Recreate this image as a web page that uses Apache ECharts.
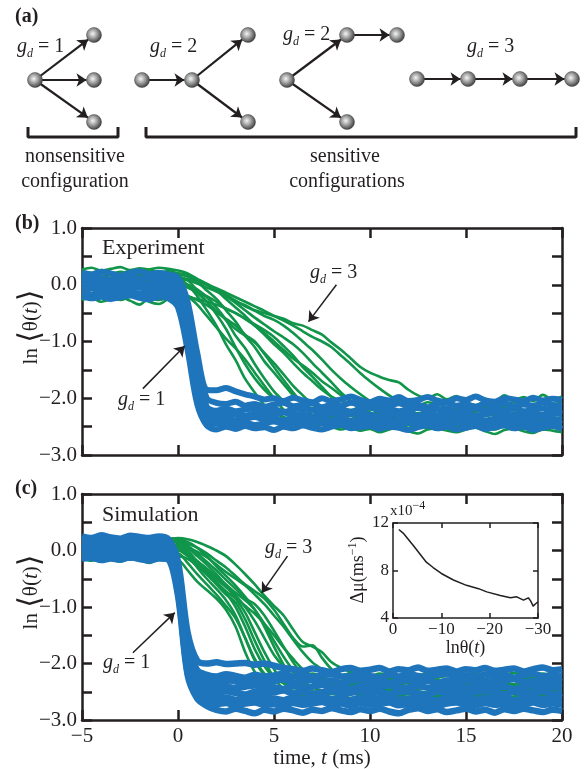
<!DOCTYPE html>
<html lang="en">
<head>
<meta charset="UTF-8">
<title>Cascade response</title>
<script src="https://cdn.jsdelivr.net/npm/echarts@6/dist/echarts.min.js"></script>
<style>
  html, body { margin: 0; padding: 0; background: #fff; }
  #chart { width: 584px; height: 769px; }
</style>
</head>
<body>
<div id="chart"></div>
<script>
// ---- data -------------------------------------------------------------
// sample times (ms) shared by every trace
const T = [-5, -4.5, -4, -3.5, -3, -2.5, -2, -1.5, -1, -0.5,
  0, 0.5, 1, 1.5, 2, 2.5, 3, 3.5, 4, 4.5,
  5, 5.5, 6, 6.5, 7, 7.5, 8, 8.5, 9, 9.5,
  10, 10.5, 11, 11.5, 12, 12.5, 13, 13.5, 14, 14.5,
  15, 15.5, 16, 16.5, 17, 17.5, 18, 18.5, 19, 19.5, 20];

// (b) experiment, g_d = 3 (green)
const expG3 = [
  [0.12,0.08,0.13,0.1,0.06,0.11,0.14,0.09,0.12,0.1, 0.1,0.0,-0.2,-0.45,-0.72,-1.05,-1.33,-1.66,-1.9,-2.12, -2.25,-2.33,-2.38,-2.32,-2.36,-2.4,-2.33,-2.35,-2.31,-2.37, -2.34,-2.38,-2.32,-2.36,-2.33,-2.39,-2.35,-2.31,-2.36,-2.38, -2.33,-2.35,-2.39,-2.34,-2.31,-2.36,-2.38,-2.33,-2.35,-2.37, -2.34],
  [0.16,0.19,0.14,0.17,0.13,0.16,0.2,0.15,0.13,0.17, 0.15,0.08,-0.1,-0.3,-0.52,-0.78,-1.1,-1.4,-1.65,-1.85, -2.0,-2.1,-2.18,-2.22,-2.17,-2.2,-2.24,-2.18,-2.21,-2.16, -2.2,-2.23,-2.18,-2.21,-2.25,-2.19,-2.17,-2.22,-2.2,-2.24, -2.19,-2.16,-2.21,-2.23,-2.18,-2.2,-2.24,-2.19,-2.17,-2.22, -2.2],
  [0.04,0.07,0.02,0.06,0.03,0.05,0.08,0.04,0.02,0.06, 0.05,0.0,-0.08,-0.22,-0.4,-0.62,-0.9,-1.12,-1.4,-1.65, -1.88,-2.05,-2.22,-2.35,-2.42,-2.47,-2.44,-2.49,-2.45,-2.42, -2.47,-2.44,-2.5,-2.46,-2.43,-2.48,-2.45,-2.42,-2.47,-2.5, -2.45,-2.43,-2.48,-2.46,-2.42,-2.47,-2.49,-2.44,-2.46,-2.43, -2.47],
  [0.24,0.21,0.26,0.22,0.19,0.25,0.23,0.27,0.21,0.24, 0.2,0.15,0.05,-0.1,-0.25,-0.45,-0.65,-0.9,-1.1,-1.35, -1.55,-1.75,-1.95,-2.1,-2.2,-2.28,-2.32,-2.27,-2.31,-2.28, -2.33,-2.29,-2.26,-2.31,-2.28,-2.32,-2.27,-2.3,-2.33,-2.28, -2.3,-2.26,-2.31,-2.29,-2.33,-2.28,-2.3,-2.26,-2.31,-2.29, -2.3],
  [-0.2,-0.24,-0.18,-0.22,-0.27,-0.21,-0.19,-0.3,-0.34,-0.25, -0.18,-0.2,-0.27,-0.36,-0.48,-0.6,-0.72,-0.88,-1.0,-1.22, -1.45,-1.68,-1.9,-2.1,-2.3,-2.42,-2.5,-2.55,-2.52,-2.57, -2.54,-2.6,-2.55,-2.52,-2.58,-2.62,-2.55,-2.53,-2.57,-2.6, -2.55,-2.52,-2.58,-2.63,-2.56,-2.53,-2.58,-2.61,-2.55,-2.57, -2.6],
  [0.27,0.3,0.25,0.28,0.31,0.26,0.29,0.27,0.3,0.28, 0.25,0.2,0.1,0.0,-0.1,-0.25,-0.4,-0.55,-0.72,-0.88, -1.05,-1.2,-1.38,-1.55,-1.7,-1.85,-1.97,-2.05,-2.1,-2.07, -2.12,-2.08,-2.11,-2.06,-2.1,-2.13,-2.07,-2.1,-2.05,-2.11, -2.08,-2.12,-2.06,-2.1,-2.13,-2.07,-2.09,-2.12,-2.05,-2.1, -2.08],
  [-0.06,-0.03,-0.08,-0.04,-0.07,-0.02,-0.06,-0.09,-0.04,-0.05, 0.0,-0.05,-0.12,-0.2,-0.3,-0.42,-0.5,-0.6,-0.7,-0.8, -0.92,-1.08,-1.25,-1.45,-1.62,-1.8,-1.98,-2.12,-2.25,-2.33, -2.38,-2.42,-2.37,-2.41,-2.44,-2.39,-2.42,-2.37,-2.4,-2.43, -2.38,-2.41,-2.44,-2.39,-2.37,-2.42,-2.4,-2.44,-2.38,-2.41, -2.39],
  [0.18,0.15,0.2,0.17,0.14,0.19,0.16,0.21,0.18,0.15, 0.18,0.15,0.08,0.0,-0.08,-0.18,-0.28,-0.38,-0.46,-0.55, -0.62,-0.72,-0.85,-1.0,-1.15,-1.32,-1.5,-1.66,-1.8,-1.93, -2.05,-2.15,-2.22,-2.26,-2.22,-2.27,-2.24,-2.21,-2.26,-2.23, -2.27,-2.22,-2.25,-2.28,-2.23,-2.26,-2.21,-2.25,-2.28,-2.24, -2.26],
  [0.1,0.13,0.08,0.11,0.07,0.12,0.09,0.06,0.1,0.08, 0.1,0.08,0.02,-0.05,-0.12,-0.2,-0.3,-0.36,-0.45,-0.5, -0.55,-0.6,-0.68,-0.72,-0.8,-0.88,-1.02,-1.15,-1.3,-1.45, -1.55,-1.62,-1.68,-1.72,-1.85,-1.95,-2.0,-1.93,-2.02,-1.96, -2.04,-1.97,-2.01,-2.06,-1.95,-2.03,-1.98,-2.05,-1.94,-2.02, -1.97],
  [-0.27,-0.23,-0.3,-0.26,-0.22,-0.28,-0.35,-0.24,-0.27,-0.23, -0.2,-0.22,-0.25,-0.3,-0.35,-0.42,-0.5,-0.6,-0.72,-0.85, -1.0,-1.15,-1.3,-1.42,-1.55,-1.7,-1.82,-1.95,-2.05,-2.15, -2.25,-2.35,-2.42,-2.48,-2.52,-2.47,-2.53,-2.5,-2.46,-2.54, -2.5,-2.47,-2.52,-2.55,-2.49,-2.53,-2.47,-2.51,-2.55,-2.5, -2.52],
  [0.02,-0.01,0.03,0.0,-0.02,0.01,0.04,0.0,-0.03,0.02, 0.03,-0.04,-0.15,-0.3,-0.46,-0.62,-0.78,-0.9,-1.02,-1.2, -1.38,-1.58,-1.78,-1.95,-2.1,-2.2,-2.26,-2.3,-2.27,-2.31, -2.28,-2.25,-2.3,-2.27,-2.31,-2.26,-2.29,-2.32,-2.27,-2.3, -2.26,-2.29,-2.31,-2.27,-2.3,-2.25,-2.29,-2.32,-2.28,-2.26, -2.3],
  [0.21,0.18,0.22,0.19,0.23,0.2,0.17,0.22,0.19,0.21, 0.2,0.17,0.1,0.02,-0.08,-0.2,-0.32,-0.45,-0.58,-0.7, -0.82,-0.93,-1.05,-1.2,-1.38,-1.55,-1.72,-1.9,-2.05,-2.2, -2.3,-2.38,-2.42,-2.39,-2.44,-2.4,-2.43,-2.38,-2.42,-2.45, -2.41,-2.38,-2.43,-2.4,-2.44,-2.39,-2.42,-2.45,-2.4,-2.43, -2.41],
  [-0.12,-0.15,-0.1,-0.13,-0.16,-0.11,-0.14,-0.18,-0.12,-0.15, -0.12,-0.2,-0.35,-0.55,-0.75,-0.95,-1.12,-1.32,-1.55,-1.78, -2.0,-2.2,-2.35,-2.45,-2.5,-2.47,-2.52,-2.49,-2.53,-2.48, -2.51,-2.48,-2.53,-2.5,-2.47,-2.52,-2.49,-2.54,-2.5,-2.47, -2.52,-2.49,-2.51,-2.54,-2.48,-2.5,-2.53,-2.49,-2.51,-2.48, -2.52],
  [0.08,0.11,0.06,0.09,0.12,0.07,0.1,0.05,0.09,0.11, 0.12,0.1,0.05,0.0,-0.06,-0.14,-0.22,-0.3,-0.38,-0.46, -0.55,-0.63,-0.72,-0.82,-0.92,-1.0,-1.1,-1.25,-1.4,-1.56, -1.7,-1.83,-1.95,-2.05,-2.12,-2.17,-2.2,-2.16,-2.21,-2.18, -2.15,-2.2,-2.17,-2.21,-2.16,-2.19,-2.22,-2.17,-2.2,-2.16, -2.19]
];

// (b) experiment, g_d = 1 (blue)
const expG1 = [
  [0.22,0.18,0.23,0.2,0.16,0.21,0.24,0.19,0.21,0.18, 0.12,-0.3,-1.2,-1.85,-1.86,-1.82,-1.88,-1.93,-1.97,-2.02, -2.0,-2.05,-1.99,-2.04,-2.07,-2.0,-2.05,-2.02,-1.97,-2.03, -2.07,-2.01,-2.04,-1.98,-2.05,-2.03,-1.98,-2.04,-2.07,-2.0, -2.03,-1.97,-2.04,-2.06,-2.0,-2.02,-2.05,-1.99,-2.04,-2.01, -2.03],
  [0.11,0.15,0.12,0.09,0.14,0.16,0.11,0.13,0.1,0.14, 0.06,-0.45,-1.4,-2.0,-2.08,-2.1,-2.06,-2.13,-2.1,-2.15, -2.11,-2.08,-2.14,-2.12,-2.09,-2.16,-2.11,-2.13,-2.08,-2.12, -2.15,-2.1,-2.13,-2.09,-2.14,-2.12,-2.16,-2.1,-2.08,-2.13, -2.11,-2.15,-2.1,-2.12,-2.09,-2.14,-2.11,-2.13,-2.08,-2.12, -2.14],
  [0.04,0.08,0.05,0.09,0.03,0.07,0.05,0.02,0.08,0.05, -0.02,-0.6,-1.55,-2.15,-2.22,-2.18,-2.23,-2.2,-2.17,-2.22, -2.19,-2.24,-2.2,-2.17,-2.21,-2.23,-2.18,-2.2,-2.24,-2.19, -2.16,-2.21,-2.19,-2.23,-2.2,-2.17,-2.22,-2.2,-2.18,-2.24, -2.2,-2.18,-2.22,-2.19,-2.21,-2.17,-2.23,-2.2,-2.18,-2.22, -2.2],
  [-0.02,0.01,-0.03,0.0,-0.04,0.02,-0.01,-0.03,0.01,-0.02, -0.1,-0.7,-1.7,-2.22,-2.3,-2.26,-2.29,-2.31,-2.27,-2.3, -2.28,-2.25,-2.3,-2.27,-2.32,-2.28,-2.26,-2.3,-2.28,-2.25, -2.29,-2.32,-2.27,-2.29,-2.26,-2.31,-2.28,-2.3,-2.26,-2.29, -2.27,-2.31,-2.28,-2.25,-2.3,-2.28,-2.32,-2.27,-2.29,-2.26, -2.28],
  [-0.09,-0.06,-0.1,-0.07,-0.11,-0.08,-0.05,-0.09,-0.07,-0.1, -0.18,-0.85,-1.85,-2.3,-2.38,-2.35,-2.39,-2.36,-2.33,-2.37, -2.35,-2.39,-2.34,-2.37,-2.36,-2.33,-2.38,-2.36,-2.4,-2.35, -2.37,-2.33,-2.36,-2.39,-2.35,-2.37,-2.34,-2.38,-2.36,-2.33, -2.37,-2.35,-2.39,-2.36,-2.34,-2.38,-2.35,-2.37,-2.33,-2.36, -2.38],
  [-0.14,-0.17,-0.13,-0.16,-0.12,-0.17,-0.15,-0.18,-0.14,-0.16, -0.28,-1.0,-2.0,-2.4,-2.45,-2.42,-2.46,-2.43,-2.47,-2.44, -2.41,-2.45,-2.43,-2.47,-2.42,-2.44,-2.46,-2.41,-2.45,-2.43, -2.47,-2.44,-2.42,-2.46,-2.43,-2.45,-2.41,-2.44,-2.47,-2.43, -2.45,-2.42,-2.46,-2.44,-2.41,-2.45,-2.43,-2.47,-2.44,-2.42, -2.45],
  [-0.2,-0.24,-0.21,-0.25,-0.22,-0.19,-0.23,-0.26,-0.21,-0.24, -0.4,-1.15,-2.1,-2.48,-2.55,-2.5,-2.54,-2.49,-2.53,-2.51, -2.56,-2.5,-2.53,-2.48,-2.52,-2.55,-2.5,-2.47,-2.53,-2.51, -2.49,-2.54,-2.5,-2.52,-2.56,-2.51,-2.48,-2.53,-2.5,-2.55, -2.52,-2.49,-2.54,-2.51,-2.48,-2.53,-2.5,-2.56,-2.52,-2.49, -2.54]
];

// (c) simulation, g_d = 3 (green)
const simG3 = [
  [0.2,0.22,0.18,0.21,0.19,0.23,0.2,0.17,0.21,0.19, 0.12,-0.05,-0.3,-0.5,-0.68,-0.88,-1.15,-1.55,-1.95,-2.2, -2.3,-2.27,-2.32,-2.29,-2.31,-2.27,-2.3,-2.33,-2.28,-2.3, -2.27,-2.31,-2.29,-2.32,-2.28,-2.3,-2.26,-2.31,-2.29,-2.27, -2.31,-2.28,-2.3,-2.33,-2.29,-2.27,-2.31,-2.29,-2.32,-2.28, -2.3],
  [0.1,0.08,0.12,0.09,0.11,0.07,0.1,0.13,0.09,0.1, 0.08,0.0,-0.2,-0.38,-0.55,-0.75,-1.0,-1.35,-1.75,-2.05, -2.25,-2.35,-2.4,-2.38,-2.42,-2.39,-2.41,-2.37,-2.4,-2.43, -2.39,-2.41,-2.38,-2.42,-2.4,-2.37,-2.41,-2.39,-2.43,-2.4, -2.38,-2.41,-2.39,-2.42,-2.4,-2.37,-2.41,-2.43,-2.39,-2.4, -2.41],
  [-0.05,-0.08,-0.03,-0.06,-0.1,-0.04,-0.07,-0.12,-0.08,-0.1, -0.15,-0.35,-0.55,-0.7,-0.85,-1.05,-1.35,-1.8,-2.15,-2.35, -2.45,-2.5,-2.48,-2.52,-2.49,-2.51,-2.47,-2.5,-2.53,-2.49, -2.51,-2.48,-2.5,-2.52,-2.47,-2.5,-2.53,-2.49,-2.51,-2.48, -2.5,-2.52,-2.48,-2.51,-2.49,-2.53,-2.5,-2.47,-2.51,-2.49, -2.5],
  [0.15,0.17,0.13,0.16,0.14,0.18,0.15,0.12,0.16,0.14, 0.15,0.05,-0.1,-0.25,-0.42,-0.62,-0.85,-1.1,-1.45,-1.8, -2.1,-2.35,-2.5,-2.58,-2.6,-2.57,-2.62,-2.59,-2.61,-2.58, -2.62,-2.6,-2.57,-2.61,-2.59,-2.63,-2.6,-2.58,-2.61,-2.59, -2.6,-2.62,-2.58,-2.61,-2.59,-2.63,-2.6,-2.57,-2.61,-2.6, -2.59],
  [0.0,0.02,-0.02,0.01,-0.01,0.03,0.0,-0.03,0.01,0.0, 0.0,-0.1,-0.22,-0.35,-0.5,-0.65,-0.8,-1.0,-1.25,-1.55, -1.85,-2.05,-2.15,-2.2,-2.18,-2.22,-2.19,-2.21,-2.17,-2.2, -2.22,-2.18,-2.2,-2.23,-2.19,-2.21,-2.18,-2.2,-2.22,-2.19, -2.21,-2.18,-2.2,-2.22,-2.19,-2.17,-2.21,-2.2,-2.18,-2.22, -2.2],
  [0.22,0.24,0.21,0.25,0.22,0.2,0.24,0.23,0.26,0.22, 0.2,0.15,0.05,-0.1,-0.28,-0.45,-0.62,-0.82,-1.05,-1.3, -1.6,-1.88,-2.12,-2.3,-2.42,-2.48,-2.5,-2.47,-2.51,-2.49, -2.52,-2.48,-2.5,-2.47,-2.51,-2.49,-2.52,-2.5,-2.47,-2.51, -2.49,-2.52,-2.48,-2.5,-2.47,-2.51,-2.49,-2.52,-2.5,-2.48, -2.5],
  [-0.15,-0.18,-0.13,-0.16,-0.2,-0.14,-0.17,-0.22,-0.16,-0.15, -0.1,-0.15,-0.28,-0.42,-0.58,-0.72,-0.85,-0.98,-1.12,-1.3, -1.5,-1.72,-1.92,-2.1,-2.22,-2.3,-2.35,-2.33,-2.36,-2.34, -2.37,-2.33,-2.35,-2.38,-2.34,-2.36,-2.33,-2.37,-2.35,-2.34, -2.36,-2.33,-2.37,-2.35,-2.34,-2.38,-2.35,-2.33,-2.36,-2.35, -2.34],
  [0.05,0.07,0.03,0.06,0.04,0.08,0.05,0.02,0.06,0.05, 0.1,0.05,-0.02,-0.12,-0.25,-0.38,-0.5,-0.62,-0.78,-0.95, -1.15,-1.35,-1.58,-1.8,-1.98,-2.1,-2.2,-2.26,-2.29,-2.27, -2.3,-2.26,-2.29,-2.27,-2.3,-2.28,-2.26,-2.29,-2.31,-2.27, -2.29,-2.26,-2.3,-2.28,-2.27,-2.3,-2.28,-2.26,-2.29,-2.28, -2.27],
  [0.18,0.2,0.16,0.19,0.17,0.21,0.18,0.15,0.19,0.2, 0.22,0.2,0.15,0.08,0.0,-0.1,-0.25,-0.42,-0.6,-0.8, -0.98,-1.15,-1.4,-1.62,-1.7,-1.8,-1.98,-2.08,-2.15,-2.22, -2.25,-2.23,-2.26,-2.22,-2.25,-2.27,-2.23,-2.25,-2.22,-2.26, -2.24,-2.27,-2.23,-2.25,-2.22,-2.26,-2.24,-2.27,-2.23,-2.25, -2.24],
  [0.12,0.1,0.14,0.11,0.13,0.09,0.12,0.15,0.11,0.13, 0.18,0.12,0.05,-0.05,-0.18,-0.3,-0.45,-0.6,-0.72,-0.85, -1.05,-1.3,-1.55,-1.7,-1.68,-1.9,-2.1,-2.2,-2.32,-2.4, -2.45,-2.43,-2.46,-2.44,-2.47,-2.45,-2.43,-2.46,-2.44,-2.47, -2.45,-2.43,-2.46,-2.44,-2.47,-2.45,-2.43,-2.46,-2.44,-2.45, -2.46],
  [0.08,0.06,0.1,0.07,0.09,0.05,0.08,0.11,0.07,0.09, 0.05,-0.08,-0.25,-0.42,-0.6,-0.78,-0.92,-1.22,-1.6,-1.95, -2.25,-2.45,-2.53,-2.56,-2.53,-2.57,-2.54,-2.56,-2.52,-2.55, -2.57,-2.53,-2.55,-2.58,-2.54,-2.56,-2.52,-2.55,-2.57,-2.53, -2.55,-2.58,-2.54,-2.56,-2.52,-2.55,-2.57,-2.54,-2.56,-2.53, -2.55],
  [0.16,0.19,0.14,0.17,0.15,0.2,0.16,0.13,0.18,0.16, 0.16,0.08,-0.05,-0.2,-0.35,-0.52,-0.68,-0.85,-0.95,-1.15, -1.42,-1.7,-1.98,-2.2,-2.33,-2.4,-2.38,-2.42,-2.39,-2.41, -2.38,-2.42,-2.4,-2.37,-2.41,-2.39,-2.42,-2.38,-2.4,-2.43, -2.39,-2.41,-2.38,-2.42,-2.4,-2.37,-2.41,-2.39,-2.42,-2.4, -2.39],
  [-0.1,-0.07,-0.12,-0.09,-0.13,-0.08,-0.11,-0.06,-0.1,-0.12, -0.05,-0.22,-0.42,-0.6,-0.78,-0.98,-1.2,-1.55,-1.92,-2.18, -2.3,-2.33,-2.3,-2.34,-2.31,-2.29,-2.33,-2.31,-2.35,-2.3, -2.33,-2.3,-2.32,-2.35,-2.31,-2.29,-2.33,-2.31,-2.34,-2.3, -2.32,-2.35,-2.3,-2.33,-2.31,-2.29,-2.34,-2.32,-2.3,-2.33, -2.31],
  [0.02,0.04,0.0,0.03,0.01,0.05,0.02,-0.01,0.03,0.01, 0.02,-0.06,-0.18,-0.32,-0.46,-0.6,-0.75,-0.88,-1.05,-1.35, -1.7,-2.02,-2.3,-2.5,-2.6,-2.63,-2.6,-2.64,-2.61,-2.63, -2.6,-2.64,-2.62,-2.59,-2.63,-2.61,-2.64,-2.6,-2.62,-2.65, -2.61,-2.63,-2.6,-2.64,-2.62,-2.59,-2.63,-2.61,-2.64,-2.6, -2.62]
];

// (c) simulation, g_d = 1 (blue)
const simG1 = [
  [0.25,0.22,0.27,0.23,0.21,0.26,0.24,0.22,0.25,0.2, -0.2,-1.45,-1.95,-2.0,-1.98,-2.01,-2.0,-1.99,-2.02,-2.0, -2.04,-2.08,-2.1,-2.13,-2.09,-2.12,-2.15,-2.1,-2.08,-2.13, -2.11,-2.08,-2.14,-2.1,-2.12,-2.07,-2.13,-2.11,-2.09,-2.14, -2.1,-2.12,-2.08,-2.13,-2.11,-2.09,-2.14,-2.1,-2.07,-2.12, -2.1],
  [0.18,0.2,0.16,0.19,0.17,0.15,0.19,0.17,0.2,0.15, -0.3,-1.65,-2.12,-2.2,-2.23,-2.19,-2.22,-2.25,-2.2,-2.23, -2.21,-2.18,-2.23,-2.2,-2.24,-2.21,-2.19,-2.23,-2.22,-2.18, -2.22,-2.25,-2.2,-2.23,-2.19,-2.22,-2.24,-2.2,-2.18,-2.23, -2.21,-2.24,-2.19,-2.22,-2.2,-2.25,-2.21,-2.18,-2.23,-2.2, -2.22],
  [0.12,0.1,0.14,0.11,0.13,0.09,0.12,0.14,0.1,0.09, -0.4,-1.8,-2.22,-2.3,-2.33,-2.29,-2.32,-2.35,-2.3,-2.33, -2.31,-2.28,-2.34,-2.31,-2.29,-2.33,-2.3,-2.35,-2.31,-2.28, -2.33,-2.3,-2.34,-2.32,-2.29,-2.33,-2.31,-2.35,-2.3,-2.32, -2.29,-2.34,-2.31,-2.33,-2.3,-2.28,-2.33,-2.31,-2.34,-2.3, -2.32],
  [0.06,0.08,0.04,0.07,0.05,0.03,0.07,0.05,0.08,0.03, -0.5,-1.92,-2.33,-2.4,-2.43,-2.4,-2.44,-2.41,-2.39,-2.43, -2.42,-2.45,-2.4,-2.43,-2.41,-2.38,-2.43,-2.41,-2.45,-2.4, -2.43,-2.41,-2.39,-2.44,-2.42,-2.4,-2.43,-2.45,-2.41,-2.39, -2.42,-2.44,-2.4,-2.43,-2.41,-2.45,-2.42,-2.39,-2.43,-2.41, -2.42],
  [0.0,0.02,-0.02,0.01,-0.01,0.03,0.0,-0.02,0.01,-0.03, -0.58,-2.02,-2.43,-2.5,-2.53,-2.49,-2.52,-2.55,-2.5,-2.53, -2.51,-2.48,-2.53,-2.5,-2.54,-2.51,-2.49,-2.53,-2.52,-2.48, -2.53,-2.5,-2.54,-2.51,-2.49,-2.53,-2.55,-2.5,-2.52,-2.49, -2.53,-2.51,-2.48,-2.52,-2.55,-2.5,-2.53,-2.51,-2.49,-2.54, -2.52],
  [-0.05,-0.03,-0.07,-0.04,-0.06,-0.02,-0.05,-0.08,-0.04,-0.07, -0.66,-2.1,-2.5,-2.6,-2.63,-2.6,-2.64,-2.61,-2.59,-2.63, -2.62,-2.65,-2.6,-2.63,-2.61,-2.58,-2.63,-2.61,-2.65,-2.6, -2.63,-2.61,-2.59,-2.64,-2.62,-2.6,-2.63,-2.65,-2.61,-2.59, -2.62,-2.64,-2.6,-2.63,-2.61,-2.65,-2.62,-2.59,-2.63,-2.61, -2.62],
  [-0.1,-0.12,-0.08,-0.11,-0.09,-0.13,-0.1,-0.07,-0.11,-0.12, -0.72,-2.15,-2.58,-2.68,-2.72,-2.7,-2.74,-2.71,-2.69,-2.73, -2.72,-2.75,-2.7,-2.73,-2.71,-2.68,-2.73,-2.71,-2.75,-2.7, -2.73,-2.71,-2.69,-2.74,-2.72,-2.7,-2.73,-2.75,-2.71,-2.69, -2.72,-2.74,-2.7,-2.73,-2.71,-2.75,-2.72,-2.69,-2.73,-2.71, -2.72],
  [-0.15,-0.13,-0.17,-0.14,-0.16,-0.12,-0.15,-0.18,-0.14,-0.16, -0.8,-2.2,-2.62,-2.75,-2.82,-2.85,-2.8,-2.84,-2.88,-2.82, -2.85,-2.8,-2.83,-2.87,-2.82,-2.84,-2.79,-2.83,-2.86,-2.81, -2.84,-2.8,-2.85,-2.88,-2.82,-2.79,-2.84,-2.81,-2.86,-2.83, -2.8,-2.85,-2.82,-2.87,-2.81,-2.84,-2.8,-2.83,-2.86,-2.82, -2.84]
];

// inset: friction change vs ln theta
const insetX = [-1.2, -2.1, -4.2, -6.9, -8.3, -10, -12.5, -15.2, -17.7, -19.4, -22.2, -24.3, -25.6, -27, -28, -28.5, -29, -29.5, -30];
const insetY = [11.45, 11.15, 10.1, 8.7, 8.25, 7.75, 7.2, 6.75, 6.47, 6.2, 5.9, 5.7, 5.78, 5.5, 5.7, 5.42, 5.0, 5.2, 5.35];

// (a) network sketches: node positions and directed links
const nodeX = [35, 94, 94, 94, 142, 192, 248, 248, 287, 347, 397, 347, 417, 468, 520, 572];
const nodeY = [80, 35, 80, 122, 80, 80, 35, 122, 80, 35, 35, 122, 79, 79, 79, 79];
const links = [[0, 1], [0, 2], [0, 3], [4, 5], [5, 6], [5, 7], [8, 9], [9, 10], [8, 11], [12, 13], [13, 14], [14, 15]];
const bracketA = [[28, 127], [28, 137], [118, 137], [118, 127]];
const bracketB = [[146, 127], [146, 137], [576, 137], [576, 127]];

// annotation arrows [tail, head] in data units
const arrowsB = [[[-1.83, -1.83], [0.35, -1.08]], [[8.25, 0.0], [6.8, -0.65]]];
const arrowsC = [[[-2.35, -1.81], [-0.17, -1.1]], [[5.7, -0.1], [4.36, -0.75]]];

// ---- style ------------------------------------------------------------
const SERIF = "'Liberation Serif', 'DejaVu Serif', serif";
const INK = '#231f20';
const BLUE = '#1f75bb';
const GREEN = '#10954a';
const minus = s => String(s).replace('-', '\u2212');

const chart = echarts.init(document.getElementById('chart'));

function frameX(grid, pos, withLabels) {
  return {
    type: 'value', gridIndex: grid, position: pos, min: -5, max: 20, interval: 5,
    axisLine: { show: true, onZero: false, lineStyle: { color: INK, width: 2.5 } },
    axisTick: { show: true, inside: true, length: 10, lineStyle: { color: INK, width: 2.5 } },
    axisLabel: { show: withLabels, color: INK, fontFamily: SERIF, fontSize: 21, margin: 6, formatter: minus, showMinLabel: true, showMaxLabel: true },
    splitLine: { show: false }
  };
}
function frameY(grid, pos, withLabels) {
  return {
    type: 'value', gridIndex: grid, position: pos, min: -3, max: 1, interval: 0.5,
    axisLine: { show: true, onZero: false, lineStyle: { color: INK, width: 2.5 } },
    axisTick: { show: true, inside: true, length: 10, lineStyle: { color: INK, width: 2.5 } },
    axisLabel: {
      show: withLabels, color: INK, fontFamily: SERIF, fontSize: 21, margin: 5,
      showMinLabel: true, showMaxLabel: true,
      formatter: v => (Math.round(v * 2) % 2 !== 0 ? '' : minus(v.toFixed(1)))
    },
    splitLine: { show: false }
  };
}
function insetX_(pos, withLabels) {
  return {
    type: 'value', gridIndex: 3, position: pos, min: -30, max: 0, interval: 10, inverse: true,
    axisLine: { show: true, onZero: false, lineStyle: { color: INK, width: 1.5 } },
    axisTick: { show: true, inside: true, length: 5, lineStyle: { color: INK, width: 1.5 } },
    axisLabel: { show: withLabels, color: INK, fontFamily: SERIF, fontSize: 17, margin: 3, formatter: minus, showMinLabel: true, showMaxLabel: true },
    splitLine: { show: false },
    name: withLabels ? '{a|ln\u03b8(}{i|t}{a|)}' : '',
    nameLocation: 'middle', nameGap: 17,
    nameTextStyle: { rich: {
      a: { fontFamily: SERIF, fontSize: 18, color: INK },
      i: { fontFamily: SERIF, fontSize: 18, fontStyle: 'italic', color: INK }
    } }
  };
}
function insetY_(pos, withLabels) {
  return {
    type: 'value', gridIndex: 3, position: pos, min: 4, max: 12, interval: 4,
    axisLine: { show: true, onZero: false, lineStyle: { color: INK, width: 1.5 } },
    axisTick: { show: true, inside: true, length: 5, lineStyle: { color: INK, width: 1.5 } },
    axisLabel: { show: withLabels, color: INK, fontFamily: SERIF, fontSize: 17, margin: 4, showMinLabel: true, showMaxLabel: true },
    splitLine: { show: false }
  };
}
const hidden = (grid, max, inverse) => ({
  type: 'value', gridIndex: grid, min: 0, max: max, inverse: inverse, show: false
});

function trace(vals, axis, color, width) {
  return {
    type: 'line', xAxisIndex: axis, yAxisIndex: axis,
    data: vals.map((v, i) => [T[i], v]),
    symbol: 'none', smooth: 0.3, silent: true, animation: false,
    lineStyle: { color: color, width: width }
  };
}
function arrowMarks(list) {
  return {
    silent: true, symbol: ['none', 'arrow'], symbolSize: 10, animation: false,
    label: { show: false }, emphasis: { disabled: true },
    lineStyle: { color: INK, width: 1.5, type: 'solid' },
    data: list.map(a => [{ coord: a[0] }, { coord: a[1] }])
  };
}

const series = [];
// (a) sketches
series.push({
  type: 'graph', layout: 'none', coordinateSystem: 'cartesian2d', xAxisIndex: 0, yAxisIndex: 0,
  silent: true, animation: false, symbol: 'circle', symbolSize: 15,
  edgeSymbol: ['none', 'arrow'], edgeSymbolSize: 10,
  itemStyle: {
    color: { type: 'radial', x: 0.42, y: 0.42, r: 0.6, colorStops: [
      { offset: 0, color: '#f5f5f5' }, { offset: 0.45, color: '#a3a3a3' }, { offset: 1, color: '#3a3a3a' }] },
    borderColor: '#444', borderWidth: 0.5
  },
  lineStyle: { color: INK, width: 2.2, opacity: 1 },
  label: { show: false },
  data: nodeX.map((x, i) => ({ value: [x, nodeY[i]] })),
  links: links.map(l => ({ source: l[0], target: l[1] }))
});
[bracketA, bracketB].forEach(b => series.push({
  type: 'line', xAxisIndex: 0, yAxisIndex: 0, data: b, symbol: 'none', silent: true, animation: false,
  lineStyle: { color: INK, width: 3 }
}));
// (b) experiment
expG3.forEach(v => series.push(trace(v, 1, GREEN, 2.6)));
expG1.forEach(v => series.push(trace(v, 1, BLUE, 6)));
series[series.length - 1].markLine = arrowMarks(arrowsB);
// (c) simulation
simG3.forEach(v => series.push(trace(v, 3, GREEN, 2.6)));
simG1.forEach(v => series.push(trace(v, 3, BLUE, 6.5)));
series[series.length - 1].markLine = arrowMarks(arrowsC);
// inset
series.push({
  type: 'line', xAxisIndex: 5, yAxisIndex: 5, data: insetX.map((x, i) => [x, insetY[i]]),
  symbol: 'none', silent: true, animation: false, lineStyle: { color: INK, width: 1.5 }
});

// ---- text -------------------------------------------------------------
const gdRich = {
  g: { fontFamily: SERIF, fontStyle: 'italic', fontSize: 20, lineHeight: 26, fill: INK },
  d: { fontFamily: SERIF, fontStyle: 'italic', fontSize: 12, lineHeight: 12, verticalAlign: 'bottom', fill: INK },
  n: { fontFamily: SERIF, fontSize: 20, lineHeight: 26, fill: INK }
};
const gd = (x, y, n) => ({ type: 'text', x: x, y: y, silent: true,
  style: { text: '{g|g}{d|d}{n| = ' + n + '}', rich: gdRich, align: 'left', verticalAlign: 'middle' } });
const txt = (x, y, s, size, extra) => ({ type: 'text', x: x, y: y, silent: true,
  style: Object.assign({ text: s, fontFamily: SERIF, fontSize: size, fill: INK, align: 'left', verticalAlign: 'middle' }, extra || {}) });
const lnTheta = (x, y) => ({ type: 'text', x: x, y: y, rotation: Math.PI / 2, silent: true,
  style: { text: '{n|ln }{b|\u27e8}{n|\u03b8(}{i|t}{n|)}{b|\u27e9}', align: 'center', verticalAlign: 'middle',
    rich: {
      n: { fontFamily: SERIF, fontSize: 21, fill: INK },
      i: { fontFamily: SERIF, fontSize: 21, fontStyle: 'italic', fill: INK },
      b: { fontFamily: "'DejaVu Sans', sans-serif", fontSize: 30, fill: INK }
    } } });

const graphic = [
  txt(15, 17, '(a)', 20, { fontWeight: 'bold' }),
  txt(15, 224, '(b)', 20, { fontWeight: 'bold' }),
  txt(15, 489, '(c)', 20, { fontWeight: 'bold' }),
  gd(17, 47, 1), gd(150, 47, 2), gd(283, 35, 2), gd(467, 47, 3),
  txt(75, 157, 'nonsensitive', 20, { align: 'center' }),
  txt(75, 182, 'configuration', 20, { align: 'center' }),
  txt(345, 157, 'sensitive', 20, { align: 'center' }),
  txt(347, 182, 'configurations', 20, { align: 'center' }),
  txt(102, 248, 'Experiment', 22),
  txt(102, 515, 'Simulation', 22),
  gd(118, 400, 1), gd(310, 273, 3),
  gd(103, 663, 1), gd(265, 548, 3),
  lnTheta(31, 327), lnTheta(31, 592),
  { type: 'text', x: 358, y: 570, rotation: Math.PI / 2, silent: true,
    style: { text: '{a|\u0394\u03bc(ms}{s|\u22121}{a|)}', align: 'center', verticalAlign: 'middle',
      rich: {
        a: { fontFamily: SERIF, fontSize: 18, lineHeight: 22, fill: INK },
        s: { fontFamily: SERIF, fontSize: 12, lineHeight: 12, verticalAlign: 'top', fill: INK }
      } } },
  { type: 'text', x: 390, y: 511, silent: true,
    style: { text: '{a|x10}{s|\u22124}', align: 'left', verticalAlign: 'middle',
      rich: {
        a: { fontFamily: SERIF, fontSize: 15, lineHeight: 22, fill: INK },
        s: { fontFamily: SERIF, fontSize: 12, lineHeight: 12, verticalAlign: 'top', fill: INK }
      } } }
];

chart.setOption({
  animation: false,
  backgroundColor: '#fff',
  grid: [
    { left: 0, top: 0, width: 584, height: 200, outerBoundsMode: 'none' },
    { left: 82, top: 228, width: 480, height: 227, outerBoundsMode: 'none' },
    { left: 82, top: 494, width: 480, height: 226, outerBoundsMode: 'none' },
    { left: 393, top: 523, width: 145, height: 95, outerBoundsMode: 'none' }
  ],
  xAxis: [
    hidden(0, 584, false),
    frameX(1, 'bottom', false), frameX(1, 'top', false),
    Object.assign(frameX(2, 'bottom', true), {
      name: '{a|time, }{i|t}{a| (ms)}', nameLocation: 'middle', nameGap: 28,
      nameTextStyle: { rich: {
        a: { fontFamily: SERIF, fontSize: 21, color: INK },
        i: { fontFamily: SERIF, fontSize: 21, fontStyle: 'italic', color: INK }
      } }
    }),
    frameX(2, 'top', false),
    insetX_('bottom', true), insetX_('top', false)
  ],
  yAxis: [
    hidden(0, 200, true),
    frameY(1, 'left', true), frameY(1, 'right', false),
    frameY(2, 'left', true), frameY(2, 'right', false),
    insetY_('left', true), insetY_('right', false)
  ],
  series: series,
  graphic: graphic
});
window.addEventListener('resize', () => chart.resize());
</script>
</body>
</html>
